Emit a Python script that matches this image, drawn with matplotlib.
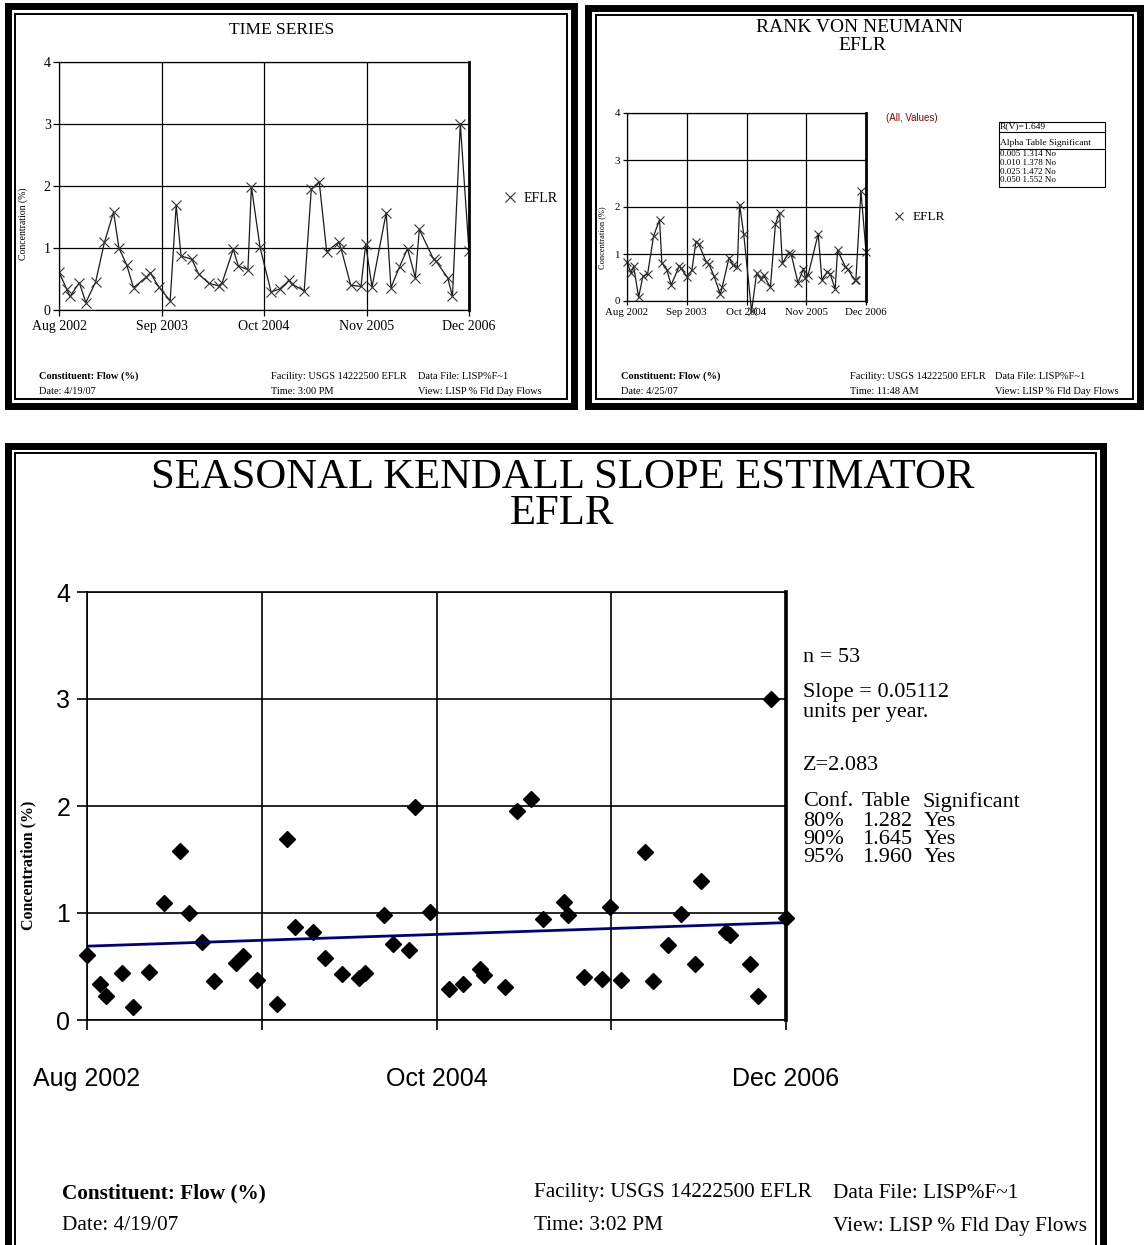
import matplotlib
matplotlib.use('Agg')
import matplotlib.pyplot as plt
from matplotlib.patches import Rectangle
from matplotlib.lines import Line2D

plt.rcParams['font.family'] = ['Liberation Serif', 'DejaVu Serif']

#%% data (x = months since Aug 2002)

months = [0.0, 0.97, 1.41, 2.58, 3.40, 4.64, 5.76, 6.92, 7.60, 8.58,
          9.45, 11.06, 11.58, 12.67, 14.10, 14.86, 15.48, 16.84, 17.71, 19.00,
          20.26, 20.69, 22.10, 22.74, 23.96, 24.40, 25.50, 26.90, 28.00, 29.20,
          29.50, 31.10, 32.00, 33.00, 33.95, 35.50, 35.80, 37.00, 38.30, 38.90,
          39.70, 41.50, 42.10, 43.20, 44.20, 45.20, 45.70, 47.50, 47.80, 49.30,
          49.90, 50.90, 52.00]
flow = [0.61, 0.34, 0.22, 0.44, 0.12, 0.45, 1.09, 1.58, 1.00, 0.73,
        0.36, 0.53, 0.60, 0.37, 0.15, 1.69, 0.87, 0.82, 0.58, 0.43,
        0.39, 0.44, 0.98, 0.71, 0.65, 1.99, 1.01, 0.29, 0.34, 0.48,
        0.42, 0.31, 1.95, 2.07, 0.94, 1.10, 0.98, 0.40, 0.38, 1.06,
        0.37, 1.57, 0.36, 0.70, 0.99, 0.52, 1.30, 0.82, 0.79, 0.52,
        0.22, 3.00, 0.95]

rvn_months = [0.0, 0.87, 1.44, 2.53, 3.47, 4.48, 5.78, 7.08, 7.58, 8.66,
              9.60, 11.40, 11.70, 13.00, 14.10, 15.00, 15.60, 17.20, 17.80, 18.90,
              20.30, 20.70, 22.20, 23.10, 24.00, 24.50, 25.40, 27.10, 28.20, 29.20,
              29.70, 31.20, 32.30, 33.20, 33.80, 35.20, 35.70, 37.20, 38.40, 38.80,
              39.40, 41.60, 42.40, 43.50, 44.20, 45.30, 45.80, 47.50, 48.00, 49.50,
              49.80, 50.90, 52.00]
rvn_flow = [0.84, 0.59, 0.74, 0.08, 0.53, 0.57, 1.38, 1.73, 0.81, 0.67,
            0.34, 0.75, 0.70, 0.52, 0.65, 1.26, 1.21, 0.84, 0.79, 0.54,
            0.14, 0.29, 0.92, 0.76, 0.73, 2.05, 1.42, -0.22, 0.59, 0.46,
            0.55, 0.29, 1.64, 1.88, 0.80, 1.03, 1.00, 0.39, 0.69, 0.50,
            0.55, 1.43, 0.45, 0.61, 0.58, 0.25, 1.08, 0.73, 0.68, 0.45,
            0.45, 2.34, 1.05]

trend_months = [0, 52]
trend_flow = [0.69, 0.91]

tick_months = [0, 13, 26, 39, 52]
tick_labels = ['Aug 2002', 'Sep 2003', 'Oct 2004', 'Nov 2005', 'Dec 2006']
sk_tick_labels = ['Aug 2002', '', 'Oct 2004', '', 'Dec 2006']

n_obs = 53
slope = 0.05112
z_stat = 2.083
conf_rows = [('80%', '1.282', 'Yes'), ('90%', '1.645', 'Yes'), ('95%', '1.960', 'Yes')]
rv_stat = 1.649
alpha_rows = [('0.005', '1.314', 'No'), ('0.010', '1.378', 'No'),
              ('0.025', '1.472', 'No'), ('0.050', '1.552', 'No')]

#%% helpers working in pixel coordinates of the 1144x1245 picture

W, H = 1144, 1245
fig = plt.figure(figsize=(W / 100, H / 100), dpi=100)
fig.patch.set_facecolor('white')


def px_axes(x0, y0, x1, y1):
    return fig.add_axes([x0 / W, 1 - y1 / H, (x1 - x0) / W, (y1 - y0) / H])


def px_text(x, y, s, **kw):
    kw.setdefault('va', 'center')
    return fig.text(x / W, 1 - y / H, s, **kw)


def px_rect(x0, y0, x1, y1, lw):
    fig.add_artist(Rectangle((x0 / W, 1 - y1 / H), (x1 - x0) / W, (y1 - y0) / H,
                             transform=fig.transFigure, fill=False, ec='black',
                             lw=lw, clip_on=False))


def px_hline(x0, x1, y, lw):
    fig.add_artist(Line2D([x0 / W, x1 / W], [1 - y / H, 1 - y / H],
                          transform=fig.transFigure, color='black', lw=lw))


def frame(x0, y0, x1, y1, gap=7):
    px_rect(x0, y0, x1, y1, 5.0)
    px_rect(x0 + gap, y0 + gap, x1 - gap, y1 - gap, 1.4)


def style(ax, labels, fs, family, grid_lw, tlen, xpad, ypad):
    ax.set_xlim(0, 52)
    ax.set_ylim(0, 4)
    ax.set_xticks(tick_months)
    ax.set_xticklabels(labels)
    ax.set_yticks([0, 1, 2, 3, 4])
    ax.grid(True, color='black', lw=grid_lw)
    ax.set_axisbelow(True)
    for s in ['left', 'bottom', 'top']:
        ax.spines[s].set_linewidth(grid_lw)
    ax.spines['right'].set_linewidth(grid_lw * 2.2)
    ax.tick_params(axis='both', direction='out', length=tlen, width=grid_lw,
                   labelsize=fs, colors='black')
    ax.tick_params(axis='x', pad=xpad)
    ax.tick_params(axis='y', pad=ypad)
    for lab in ax.get_xticklabels() + ax.get_yticklabels():
        lab.set_family(family)


def footer(x1, x2, x3, y1, y2, fs, date, time):
    px_text(x1, y1, 'Constituent: Flow (%)', fontsize=fs, fontweight='bold')
    px_text(x1, y2, 'Date: ' + date, fontsize=fs)
    px_text(x2, y1, 'Facility: USGS 14222500 EFLR', fontsize=fs)
    px_text(x2, y2, 'Time: ' + time, fontsize=fs)
    px_text(x3, y1, 'Data File: LISP%F~1', fontsize=fs)
    px_text(x3, y2, 'View: LISP % Fld Day Flows', fontsize=fs)


serif = ['Liberation Serif', 'DejaVu Serif']
sans = ['Liberation Sans', 'DejaVu Sans']

#%% top left: time series

frame(7.5, 6.5, 574, 406)
ax1 = px_axes(59, 62, 469, 310)
style(ax1, tick_labels, 10, serif, 0.9, 4, 3, 2)
ax1.plot(months, flow, color='#1a1a1a', lw=0.9, marker='x', ms=6.5,
         mew=0.8, mec='#333333')
px_text(282, 30, 'TIME SERIES', fontsize=12.5, ha='center')
px_text(23, 224, 'Concentration (%)', fontsize=7, rotation=90, ha='center')
h = Line2D([], [], ls='none', marker='x', color='#333333', ms=6.5, mew=0.8)
ax1.legend([h], ['EFLR'], loc='center left', bbox_to_anchor=(496 / W, 1 - 198 / H),
           bbox_transform=fig.transFigure, frameon=False, fontsize=10,
           handlelength=1.0, handletextpad=0.5, borderpad=0)
footer(39, 271, 418, 376, 392, 7.5, '4/19/07', '3:00 PM')

#%% top right: rank von neumann

frame(588.5, 8.5, 1140, 406)
ax2 = px_axes(627, 113, 866, 301)
style(ax2, tick_labels, 7.8, serif, 0.9, 3, 2, 2)
ax2.plot(rvn_months, rvn_flow, color='#1a1a1a', lw=0.9, marker='x', ms=5.5,
         mew=0.8, mec='#333333', clip_on=False)
px_text(860, 28, 'RANK VON NEUMANN', fontsize=14, ha='center')
px_text(862, 46, 'EFLR', fontsize=14, ha='center')
px_text(602, 238, 'Concentration (%)', fontsize=6, rotation=90, ha='center')
h2 = Line2D([], [], ls='none', marker='x', color='#333333', ms=5.5, mew=0.8)
ax2.legend([h2], ['EFLR'], loc='center left', bbox_to_anchor=(886 / W, 1 - 217 / H),
           bbox_transform=fig.transFigure, frameon=False, fontsize=9.5,
           handlelength=1.0, handletextpad=0.5, borderpad=0)
px_text(886, 118, '(All, Values)', fontsize=7, color='#8b0000',
        family=['Liberation Sans Narrow', 'Liberation Sans'])

# R(V) box
px_rect(999, 122, 1105, 187, 0.8)
px_hline(999, 1105, 131.5, 0.8)
px_hline(999, 1105, 149, 0.8)
px_text(1000, 126.5, 'R(V)=%.3f' % rv_stat, fontsize=6.8)
px_text(1000, 143, 'Alpha Table Significant', fontsize=6.8)
for i, row in enumerate(alpha_rows):
    px_text(1000, 154 + i * 8.8, ' '.join(row), fontsize=6.5)
footer(621, 850, 995, 376, 392, 7.5, '4/25/07', '11:48 AM')

#%% bottom: seasonal kendall slope estimator

frame(7.5, 445.5, 1102.5, 1290)
ax3 = px_axes(87, 592, 786, 1020)
style(ax3, sk_tick_labels, 18, sans, 1.2, 7, 27, 5)
ax3.plot(months, flow, ls='none', marker='D', ms=7.8, color='black', clip_on=False)
ax3.plot(trend_months, trend_flow, color='#00007f', lw=2.0)
px_text(563, 478, 'SEASONAL KENDALL SLOPE ESTIMATOR', fontsize=30.8, ha='center')
px_text(562, 514, 'EFLR', fontsize=30.8, ha='center')
px_text(28, 865, 'Concentration (%)', fontsize=11.5, fontweight='bold',
        rotation=90, ha='center')

fs = 16
px_text(803, 658, 'n = %d' % n_obs, fontsize=fs)
px_text(803, 693, 'Slope = %.5f' % slope, fontsize=fs)
px_text(803, 713, 'units per year.', fontsize=fs)
px_text(803, 766, 'Z=%.3f' % z_stat, fontsize=fs)
px_text(803, 802, 'Conf.', fontsize=fs)
px_text(862, 802, 'Table', fontsize=fs)
px_text(923, 802, 'Significant', fontsize=fs)
for i, (c, t, s) in enumerate(conf_rows):
    y = 821 + i * 18.5
    px_text(803, y, c, fontsize=fs)
    px_text(862, y, t, fontsize=fs)
    px_text(924, y, s, fontsize=fs)

footer(62, 534, 833, 1193, 1226, 15.3, '4/19/07', '3:02 PM')

fig.savefig('out.png', dpi=100, facecolor='white')
